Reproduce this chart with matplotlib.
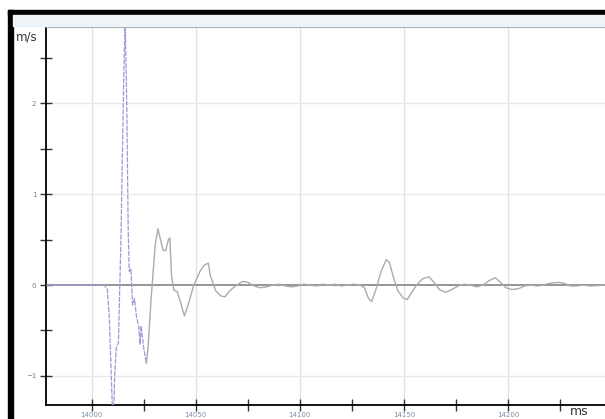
import matplotlib
matplotlib.use("Agg")
import matplotlib.pyplot as plt
from matplotlib.patches import Rectangle
from matplotlib.ticker import MultipleLocator

# velocity trace: time in ms, velocity in m/s
time_ms = [13978, 13990, 14004, 14006, 14007.5, 14008.5, 14009.5, 14010.3,
           14011, 14011.8, 14012.8, 14014, 14015.3, 14016, 14016.8, 14017.5,
           14018, 14018.8, 14019.6, 14020.5, 14021.5, 14022.5, 14023.2,
           14023.7, 14024.2, 14025, 14026.2,
           14027, 14028.5, 14030.5, 14031.8, 14033, 14034.3, 14035.5, 14036.8,
           14037.5, 14038.3, 14039.5, 14041, 14042.5, 14044.5, 14046.5, 14049,
           14052, 14054, 14056, 14057, 14059.5, 14062, 14064, 14066, 14069,
           14072.5, 14075, 14078, 14081, 14084, 14087, 14090, 14093, 14096,
           14099, 14102, 14105, 14108, 14111, 14114, 14117, 14120, 14123,
           14126, 14129, 14131, 14133, 14134.5, 14136.5, 14139, 14141.5,
           14143, 14145, 14147, 14149.5, 14151.5, 14153.5, 14156, 14159,
           14162, 14164.5, 14167, 14170, 14173, 14176, 14179, 14182, 14185,
           14188, 14191, 14193.8, 14196, 14199, 14201.8, 14205, 14208, 14211,
           14214, 14217, 14220, 14224, 14227, 14230, 14233, 14236, 14240,
           14246.6]
velocity = [0.0, 0.0, 0.0, 0.0, -0.05, -0.4, -1.1, -1.6,
            -1.0, -0.68, -0.64, 0.5, 2.2, 2.95, 2.0, 0.6,
            0.15, 0.18, -0.22, -0.15, -0.35, -0.45, -0.65,
            -0.45, -0.55, -0.7, -0.86,
            -0.7, -0.15, 0.45, 0.62, 0.5, 0.38, 0.38, 0.5,
            0.52, 0.1, -0.06, -0.07, -0.18, -0.34, -0.2, 0.0,
            0.15, 0.22, 0.24, 0.1, -0.06, -0.12, -0.13, -0.07, -0.01,
            0.04, 0.03, -0.01, -0.03, -0.02, 0.0, 0.01, -0.01, -0.02,
            -0.01, 0.01, 0.0, -0.01, 0.01, 0.0, 0.01, -0.01, 0.0,
            0.01, 0.0, -0.03, -0.15, -0.18, -0.05, 0.15, 0.28,
            0.25, 0.08, -0.06, -0.14, -0.16, -0.09, 0.0, 0.07,
            0.09, 0.03, -0.05, -0.08, -0.05, -0.01, 0.01, 0.0, -0.02,
            0.0, 0.05, 0.08, 0.04, -0.03, -0.05, -0.04, -0.01, 0.0,
            -0.01, 0.0, 0.02, 0.03, 0.02, -0.01, -0.01, 0.0, -0.01,
            0.0]
split_ms = 14026.2  # first arrival drawn in blue, the rest in grey

x_major = [14000, 14050, 14100, 14150, 14200]
y_major = [-1, 0, 1, 2]

W, H = 605, 419
fig = plt.figure(figsize=(W / 100, H / 100), dpi=100)

# window frame and header strip
fig.patches.append(Rectangle((8 / W, 0), 5 / W, 409 / H, transform=fig.transFigure,
                             color="black", zorder=0))
fig.patches.append(Rectangle((8 / W, 404 / H), 597 / W, 5 / H, transform=fig.transFigure,
                             color="black", zorder=0))
fig.patches.append(Rectangle((13 / W, 393 / H), 592 / W, 11 / H, transform=fig.transFigure,
                             color="#eef3f8", zorder=0))

ax = fig.add_axes([46 / W, 14 / H, (W - 46) / W, (405 - 27) / H])
ax.set_xlim(13978, 14246.6)
ax.set_ylim(-1.32, 2.84)

for xv in x_major:
    ax.axvline(xv, color="#e2e2e2", lw=1.0, zorder=1)
for yv in y_major:
    if yv != 0:
        ax.axhline(yv, color="#eaeaea", lw=1.0, zorder=1)
ax.axhline(0, color="#8c8c8c", lw=1.3, zorder=2)

i = time_ms.index(split_ms)
ax.plot(time_ms[i:], velocity[i:], color="#ababab", lw=1.0, zorder=3)
ax.plot(time_ms[:i + 1], velocity[:i + 1], color="#9a9ad8", lw=0.9,
        ls=(0, (4, 1)), zorder=4)

ax.spines["right"].set_visible(False)
ax.spines["top"].set_color("#a0a0a0")
ax.spines["left"].set_linewidth(1.3)
ax.spines["bottom"].set_linewidth(1.3)

ax.set_xticks(x_major)
ax.set_yticks(y_major)
ax.xaxis.set_minor_locator(MultipleLocator(25))
ax.yaxis.set_minor_locator(MultipleLocator(0.5))
ax.tick_params(which="both", direction="inout", length=8, width=1.0, color="#333333")
ax.tick_params(axis="x", labelsize=5, labelcolor="#7f8ea8", pad=1)
ax.tick_params(axis="y", labelsize=5, labelcolor="#7f7f7f", pad=3)

fig.text(16 / W, 1 - 37 / H, "m/s", fontsize=8.5, color="#333333", va="center")
fig.text(570 / W, 1 - 411 / H, "ms", fontsize=9, color="#333333", va="center")

fig.savefig("out.png", dpi=100)
